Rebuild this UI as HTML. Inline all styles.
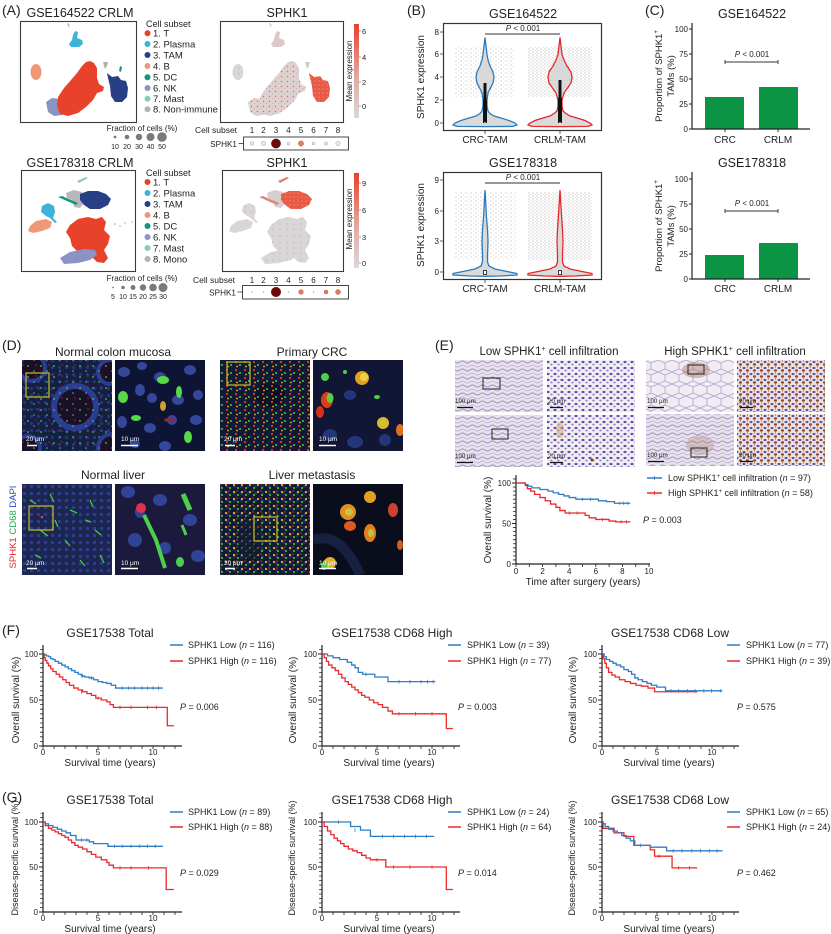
<!DOCTYPE html>
<html><head><meta charset="utf-8"><style>
html,body{margin:0;padding:0;background:#fff;width:831px;height:934px;overflow:hidden}
svg{display:block}
text{fill:#222}
</style></head><body>
<svg xmlns="http://www.w3.org/2000/svg" width="831" height="934" viewBox="0 0 831 934" font-family="'Liberation Sans', Arial, sans-serif">
<defs>
<linearGradient id="cbar" x1="0" y1="1" x2="0" y2="0">
<stop offset="0" stop-color="#d9d9d9"/><stop offset="0.45" stop-color="#e4a79e"/><stop offset="1" stop-color="#e8402a"/>
</linearGradient>
<pattern id="speck" width="6" height="5" patternUnits="userSpaceOnUse">
<rect width="6" height="5" fill="#dcd2d1"/><circle cx="1.5" cy="1.5" r="0.7" fill="#e2685a"/><circle cx="4.5" cy="3.6" r="0.5" fill="#e8948a"/>
</pattern>
<pattern id="speckG" width="7" height="6" patternUnits="userSpaceOnUse">
<rect width="7" height="6" fill="#d8d6d6"/><circle cx="2" cy="2" r="0.5" fill="#e07a70"/>
</pattern>
<pattern id="speckR" width="4" height="4" patternUnits="userSpaceOnUse">
<rect width="4" height="4" fill="#e85a45"/><circle cx="1" cy="1" r="0.6" fill="#f09a8c"/>
</pattern>
<pattern id="jit" width="5" height="4" patternUnits="userSpaceOnUse">
<circle cx="1" cy="1" r="0.45" fill="#8a8a8a"/><circle cx="3.5" cy="3" r="0.4" fill="#a5a5a5"/>
</pattern>
<pattern id="jit2" width="4" height="3" patternUnits="userSpaceOnUse">
<circle cx="1" cy="1" r="0.45" fill="#7e7e7e"/><circle cx="3" cy="2.3" r="0.4" fill="#9a9a9a"/>
</pattern>
<pattern id="dBlueNuc" width="7" height="7" patternUnits="userSpaceOnUse">
<circle cx="3.5" cy="3.5" r="1.6" fill="#2c3f94"/>
</pattern>
<pattern id="dGreen" width="13" height="11" patternUnits="userSpaceOnUse">
<circle cx="2" cy="3" r="0.9" fill="#3ed24a"/><circle cx="8" cy="8" r="0.8" fill="#3ed24a"/><circle cx="10" cy="2" r="0.6" fill="#d23a3a"/>
</pattern>
<pattern id="dMix" width="9" height="8" patternUnits="userSpaceOnUse">
<circle cx="2" cy="2" r="1.1" fill="#e23a22"/><circle cx="6" cy="5" r="1" fill="#3fcf40"/><circle cx="3" cy="6.5" r="0.9" fill="#e2c02a"/>
</pattern>
<pattern id="dMixY" width="8" height="7" patternUnits="userSpaceOnUse">
<circle cx="2" cy="2" r="1.1" fill="#e8b42a"/><circle cx="6" cy="5" r="1" fill="#4ad23a"/><circle cx="5" cy="1" r="0.7" fill="#e04020"/>
</pattern>
<pattern id="ihcL" width="10" height="8" patternUnits="userSpaceOnUse">
<rect width="10" height="8" fill="#e8e2ec"/>
<path d="M0 2 Q2.5 0 5 2 T10 2" stroke="#9d8fc6" stroke-width="1" fill="none"/>
<path d="M0 6 Q2.5 4 5 6 T10 6" stroke="#b8acd6" stroke-width="0.8" fill="none"/>
</pattern>
<pattern id="ihcZ" width="7" height="6" patternUnits="userSpaceOnUse">
<rect width="7" height="6" fill="#f1edf0"/>
<ellipse cx="2" cy="2" rx="1.6" ry="1.1" fill="#5e4ea8"/><ellipse cx="5.5" cy="4.5" rx="1.2" ry="0.9" fill="#8a7cc0"/>
</pattern>
<pattern id="ihcZH" width="7" height="6" patternUnits="userSpaceOnUse">
<rect width="7" height="6" fill="#ebe1e3"/>
<ellipse cx="2" cy="2" rx="1.5" ry="1.1" fill="#5e4ea8"/><ellipse cx="5.5" cy="4.5" rx="1.6" ry="1.2" fill="#8e4a1c"/><circle cx="5.5" cy="1" r="0.6" fill="#a0602a"/>
</pattern>
<pattern id="ihcLace" width="14" height="12" patternUnits="userSpaceOnUse">
<rect width="14" height="12" fill="#f1edf2"/>
<path d="M0 0 L7 3 L14 0 M7 3 L7 9 L0 12 M7 9 L14 12" stroke="#b4a6d2" stroke-width="0.9" fill="none"/>
</pattern>
<clipPath id="cD1"><rect x="22" y="360" width="90" height="91"/></clipPath>
<clipPath id="cD2"><rect x="115" y="360" width="90" height="91"/></clipPath>
<clipPath id="cD3"><rect x="220" y="360" width="90" height="91"/></clipPath>
<clipPath id="cD4"><rect x="313" y="360" width="90" height="91"/></clipPath>
<clipPath id="cD5"><rect x="22" y="484" width="90" height="91"/></clipPath>
<clipPath id="cD6"><rect x="115" y="484" width="90" height="91"/></clipPath>
<clipPath id="cD7"><rect x="220" y="484" width="90" height="91"/></clipPath>
<clipPath id="cD8"><rect x="313" y="484" width="90" height="91"/></clipPath>
</defs>

<!-- ================= PANEL A TOP ================= -->
<text x="2" y="15" font-size="14">(A)</text>
<text x="80" y="17" font-size="12.5" text-anchor="middle">GSE164522 CRLM</text>
<rect x="20.5" y="21.5" width="116" height="101" fill="#fff" stroke="#3a3a3a" stroke-width="1.1"/>
<path d="M67 23 l2 1 l1 3 l-2 -1z" fill="#86cdb8"/>
<path d="M75 31 L78 32 L77 38 L82 40 L83 44 L79 47 L71 47 L69 44 L72 40 L73 35 Z" fill="#3cb4d8"/>
<ellipse cx="36" cy="72" rx="5.5" ry="8" fill="#ef9878"/>
<path d="M46 102 L52 98 L60 99 L64 104 L66 110 L62 115 L54 116 L48 112 Z" fill="#8a93c2"/>
<path d="M58 97 L64 88 L71 80 L77 73 L82 66 L86 62 L90 61 L94 63 L97 68 L97 78 L99 84 L104 87 L103 91 L97 93 L93 100 L86 107 L78 113 L68 116 L60 114 L57 106 Z" fill="#e8432a"/>
<path d="M107 73 L112 77 L118 76 L121 80 L126 81 L128 88 L127 97 L122 102 L115 102 L111 96 L110 86 L108 78 Z" fill="#263f86"/>
<path d="M120 66 l2 1 l-1 5 l-2 -1z" fill="#14967a"/>
<path d="M103 62 h5 l-1 4 l-2 3 l-1 -3z" fill="#b0b0b0"/>

<text x="146" y="27" font-size="9">Cell subset</text>
<g font-size="9.5">
<circle cx="147.5" cy="33.3" r="3" fill="#e8432a"/><text x="153" y="36.6">1. T</text>
<circle cx="147.5" cy="44" r="3" fill="#3cb4d8"/><text x="153" y="47.3">2. Plasma</text>
<circle cx="147.5" cy="55" r="3" fill="#263f86"/><text x="153" y="58.3">3. TAM</text>
<circle cx="147.5" cy="66" r="3" fill="#ef9878"/><text x="153" y="69.3">4. B</text>
<circle cx="147.5" cy="77.3" r="3" fill="#14967a"/><text x="153" y="80.6">5. DC</text>
<circle cx="147.5" cy="88" r="3" fill="#8a93c2"/><text x="153" y="91.3">6. NK</text>
<circle cx="147.5" cy="98.7" r="3" fill="#86cdb8"/><text x="153" y="102">7. Mast</text>
<circle cx="147.5" cy="109.3" r="3" fill="#b4b4b4"/><text x="153" y="112.6">8. Non-immune</text>
</g>

<text x="287" y="17" font-size="12.5" text-anchor="middle">SPHK1</text>
<rect x="220.5" y="21.5" width="123" height="101" fill="#fff" stroke="#3a3a3a" stroke-width="1.1"/>
<g transform="translate(202,0)">
<path d="M67 23 l2 1 l1 3 l-2 -1z" fill="#d0cccc"/>
<path d="M75 31 L78 32 L77 38 L82 40 L83 44 L79 47 L71 47 L69 44 L72 40 L73 35 Z" fill="#dcc8c6"/>
<ellipse cx="36" cy="72" rx="5.5" ry="8" fill="url(#speckG)"/>
<path d="M46 102 L52 98 L60 99 L64 104 L66 110 L62 115 L54 116 L48 112 Z" fill="url(#speck)"/>
<path d="M58 97 L64 88 L71 80 L77 73 L82 66 L86 62 L90 61 L94 63 L97 68 L97 78 L99 84 L104 87 L103 91 L97 93 L93 100 L86 107 L78 113 L68 116 L60 114 L57 106 Z" fill="url(#speck)"/>
<path d="M107 73 L112 77 L118 76 L121 80 L126 81 L128 88 L127 97 L122 102 L115 102 L111 96 L110 86 L108 78 Z" fill="url(#speckR)"/>
<path d="M103 62 h5 l-1 4 l-2 3 l-1 -3z" fill="#d0cccc"/>
</g>
<text transform="translate(352,71) rotate(-90)" font-size="8" text-anchor="middle">Mean expression</text>
<rect x="354" y="24" width="5" height="94" fill="url(#cbar)"/>
<g font-size="7.5"><path d="M359 31 h2 M359 57 h2 M359 82 h2 M359 106 h2" stroke="#444" stroke-width="0.6"/>
<text x="362" y="34">6</text><text x="362" y="60">4</text><text x="362" y="85">2</text><text x="362" y="109">0</text></g>

<text x="142" y="131" font-size="8" text-anchor="middle">Fraction of cells (%)</text>
<g fill="#7a7a7a"><circle cx="115" cy="137" r="1.4"/><circle cx="127" cy="137" r="2.3"/><circle cx="139" cy="137" r="3.2"/><circle cx="150.5" cy="137" r="4"/><circle cx="162" cy="137" r="4.8"/></g>
<g font-size="7" text-anchor="middle"><text x="115" y="149">10</text><text x="127" y="149">20</text><text x="139" y="149">30</text><text x="150.5" y="149">40</text><text x="162" y="149">50</text></g>

<text x="195" y="133" font-size="8.5">Cell subset</text>
<g font-size="8" text-anchor="middle"><text x="252" y="133">1</text><text x="263.5" y="133">2</text><text x="276" y="133">3</text><text x="288.5" y="133">4</text><text x="301" y="133">5</text><text x="313.5" y="133">6</text><text x="326" y="133">7</text><text x="338" y="133">8</text></g>
<rect x="243.5" y="137" width="105" height="13" fill="#fff" stroke="#333" stroke-width="0.9"/>
<text x="237" y="147" font-size="8.2" text-anchor="end">SPHK1</text><path d="M238.5 143.5 h5" stroke="#333" stroke-width="0.8"/>
<g stroke="#999" stroke-width="0.5">
<circle cx="252" cy="143.5" r="1.7" fill="#f3efed"/><circle cx="263.5" cy="143.5" r="2" fill="#f6ecdf"/>
<circle cx="276" cy="143.5" r="4.6" fill="#6b0a0a" stroke="#4a0505"/>
<circle cx="288.5" cy="143.5" r="1.5" fill="#eee"/><circle cx="301" cy="143.5" r="2.6" fill="#e8805e" stroke="#b5553c"/>
<circle cx="313.5" cy="143.5" r="1.4" fill="#eee"/><circle cx="326" cy="143.5" r="1.6" fill="#f0ece9"/><circle cx="338" cy="143.5" r="2.2" fill="#f5ede4"/>
</g>

<!-- ================= PANEL A BOTTOM ================= -->
<text x="80" y="167" font-size="12.5" text-anchor="middle">GSE178318 CRLM</text>
<rect x="21.5" y="170.5" width="114" height="101" fill="#fff" stroke="#3a3a3a" stroke-width="1.1"/>
<path d="M77 181 L86 177 L88 178 L79 183 Z" fill="#86cdb8"/>
<path d="M66 193 L74 190 L82 192 L86 197 L84 203 L80 208 L74 207 L72 200 L67 198 Z" fill="#b8b8b8"/>
<path d="M80 194 L88 191 L98 191 L106 194 L111 199 L108 205 L100 209 L90 209 L84 205 L80 200 Z" fill="#263f86"/>
<path d="M58 197 L62 196 L78 203 L76 205 Z" fill="#14967a"/>
<path d="M42 206 L48 203 L54 206 L55 212 L53 218 L57 222 L55 223 L50 218 L46 216 L41 212 Z" fill="#3cb4d8"/>
<path d="M30 226 L36 221 L46 219 L52 222 L50 228 L42 231 L33 233 L28 231 Z" fill="#ef9878"/>
<path d="M70 225 L78 219 L88 217 L96 219 L102 217 L106 222 L104 230 L110 236 L108 244 L104 250 L108 258 L104 263 L97 262 L92 257 L85 255 L78 252 L72 246 L70 238 L66 232 Z" fill="#e8432a"/>
<path d="M60 258 L70 252 L84 249 L95 250 L97 255 L90 260 L78 263 L64 264 Z" fill="#8a93c2"/>
<g fill="#e8836f"><circle cx="115" cy="224" r="0.8"/><circle cx="120" cy="226" r="0.7"/><circle cx="125" cy="223" r="0.7"/><circle cx="132" cy="222" r="0.8" fill="#86cdb8"/></g>

<text x="146" y="176" font-size="9">Cell subset</text>
<g font-size="9.5">
<circle cx="147.5" cy="182" r="3" fill="#e8432a"/><text x="153" y="185.3">1. T</text>
<circle cx="147.5" cy="193" r="3" fill="#3cb4d8"/><text x="153" y="196.3">2. Plasma</text>
<circle cx="147.5" cy="204" r="3" fill="#263f86"/><text x="153" y="207.3">3. TAM</text>
<circle cx="147.5" cy="215" r="3" fill="#ef9878"/><text x="153" y="218.3">4. B</text>
<circle cx="147.5" cy="226" r="3" fill="#14967a"/><text x="153" y="229.3">5. DC</text>
<circle cx="147.5" cy="237" r="3" fill="#8a93c2"/><text x="153" y="240.3">6. NK</text>
<circle cx="147.5" cy="248" r="3" fill="#86cdb8"/><text x="153" y="251.3">7. Mast</text>
<circle cx="147.5" cy="259" r="3" fill="#b4b4b4"/><text x="153" y="262.3">8. Mono</text>
</g>

<text x="287" y="167" font-size="12.5" text-anchor="middle">SPHK1</text>
<rect x="222.5" y="170.5" width="121" height="101" fill="#fff" stroke="#3a3a3a" stroke-width="1.1"/>
<g transform="translate(201,0)">
<path d="M77 181 L86 177 L88 178 L79 183 Z" fill="#e27a6a"/>
<path d="M66 193 L74 190 L82 192 L86 197 L84 203 L80 208 L74 207 L72 200 L67 198 Z" fill="#d6cfcf"/>
<path d="M80 194 L88 191 L98 191 L106 194 L111 199 L108 205 L100 209 L90 209 L84 205 L80 200 Z" fill="url(#speckR)"/>
<path d="M58 197 L62 196 L78 203 L76 205 Z" fill="#e0857a"/>
<path d="M42 206 L48 203 L54 206 L55 212 L53 218 L57 222 L55 223 L50 218 L46 216 L41 212 Z" fill="url(#speckG)"/>
<path d="M30 226 L36 221 L46 219 L52 222 L50 228 L42 231 L33 233 L28 231 Z" fill="#d8d6d6"/>
<path d="M70 225 L78 219 L88 217 L96 219 L102 217 L106 222 L104 230 L110 236 L108 244 L104 250 L108 258 L104 263 L97 262 L92 257 L85 255 L78 252 L72 246 L70 238 L66 232 Z" fill="url(#speckG)"/>
<path d="M60 258 L70 252 L84 249 L95 250 L97 255 L90 260 L78 263 L64 264 Z" fill="url(#speckG)"/>
</g>
<text transform="translate(352,219) rotate(-90)" font-size="8" text-anchor="middle">Mean expression</text>
<rect x="354" y="173" width="5" height="95" fill="url(#cbar)"/>
<g font-size="7.5"><path d="M359 183 h2 M359 210 h2 M359 237 h2 M359 263 h2" stroke="#444" stroke-width="0.6"/>
<text x="362" y="186">9</text><text x="362" y="213">6</text><text x="362" y="240">3</text><text x="362" y="266">0</text></g>

<text x="142" y="281" font-size="8" text-anchor="middle">Fraction of cells (%)</text>
<g fill="#7a7a7a"><circle cx="113" cy="287.5" r="0.9"/><circle cx="123" cy="287.5" r="1.8"/><circle cx="133" cy="287.5" r="2.5"/><circle cx="143" cy="287.5" r="3.2"/><circle cx="153" cy="287.5" r="3.8"/><circle cx="163" cy="287.5" r="4.5"/></g>
<g font-size="7" text-anchor="middle"><text x="113" y="299">5</text><text x="123" y="299">10</text><text x="133" y="299">15</text><text x="143" y="299">20</text><text x="153" y="299">25</text><text x="163" y="299">30</text></g>

<text x="193" y="283" font-size="8.5">Cell subset</text>
<g font-size="8" text-anchor="middle"><text x="252" y="283">1</text><text x="263.5" y="283">2</text><text x="276" y="283">3</text><text x="288.5" y="283">4</text><text x="301" y="283">5</text><text x="313.5" y="283">6</text><text x="326" y="283">7</text><text x="338" y="283">8</text></g>
<rect x="242.5" y="285.5" width="106" height="13.5" fill="#fff" stroke="#333" stroke-width="0.9"/>
<text x="236" y="295.5" font-size="8.2" text-anchor="end">SPHK1</text><path d="M237.5 292 h5" stroke="#333" stroke-width="0.8"/>
<g>
<circle cx="252" cy="292" r="0.7" fill="#aaa"/><circle cx="263.5" cy="292" r="0.7" fill="#aaa"/>
<circle cx="276" cy="292" r="5" fill="#6b0a0a"/>
<circle cx="288.5" cy="292" r="0.7" fill="#aaa"/><circle cx="301" cy="292" r="2.4" fill="#e47a55" stroke="#b5553c" stroke-width="0.4"/>
<circle cx="313.5" cy="292" r="0.7" fill="#aaa"/><circle cx="326" cy="292" r="2" fill="#e47a55" stroke="#b5553c" stroke-width="0.4"/><circle cx="338" cy="292" r="2.5" fill="#e47a55" stroke="#b5553c" stroke-width="0.4"/>
</g>

<!-- ================= PANEL B ================= -->
<text x="407" y="15" font-size="14">(B)</text>
<text x="523" y="18" font-size="12.5" text-anchor="middle">GSE164522</text>
<rect x="443.5" y="23.5" width="158" height="107" fill="#fff" stroke="#333" stroke-width="1.2"/>
<rect x="455" y="47" width="60" height="50" fill="url(#jit)"/>
<rect x="528" y="47" width="64" height="50" fill="url(#jit2)"/>
<path d="M485 37.5 L486 46 L487 54.6 L488 60 L490 66 L493 72 L494 77.4 L493 83 L490 88.8 L488 93 L487 100 L487 106 L488 111 L490 113.5 L494 116 L501 118 L509 120.5 L515 123 L517 125 L513 126.4 L485 126.6 L457 126.4 L453 125 L455 123 L461 120.5 L469 118 L476 116 L480 113.5 L482 111 L483 106 L483 100 L482 93 L480 88.8 L477 83 L476 77.4 L477 72 L480 66 L482 60 L483 54.6 L484 46 Z" fill="#d4d4d4" fill-opacity="0.85" stroke="#2b7bc0" stroke-width="1.3"/>
<path d="M560 37.5 L561 46 L562 54.6 L564 60 L567 66 L571 72 L572 77.4 L571 83 L567 88.8 L564 93 L562 100 L562 106 L563 111 L566 113.5 L570 116 L577 118 L585 120.5 L590 123 L592 125 L588 126.4 L560 126.6 L532 126.4 L528 125 L530 123 L535 120.5 L543 118 L550 116 L554 113.5 L557 111 L558 106 L558 100 L556 93 L553 88.8 L549 83 L548 77.4 L549 72 L553 66 L556 60 L558 54.6 L559 46 Z" fill="#d4d4d4" fill-opacity="0.85" stroke="#e8262c" stroke-width="1.3"/>
<rect x="483.5" y="83" width="3" height="40" fill="#111"/><rect x="483" y="100" width="4" height="23" fill="#111"/>
<rect x="558.5" y="80" width="3" height="43" fill="#111"/><rect x="558" y="98" width="4" height="25" fill="#111"/>
<circle cx="485" cy="123" r="1" fill="#ccc"/><circle cx="560" cy="123" r="1" fill="#ccc"/>
<path d="M485 34 H560" stroke="#333" stroke-width="0.9"/>
<text x="523" y="31" font-size="8" text-anchor="middle"><tspan font-style="italic">P</tspan> &lt; 0.001</text>
<g font-size="8" text-anchor="end"><text x="439" y="35">8</text><text x="439" y="57">6</text><text x="439" y="80">4</text><text x="439" y="103">2</text><text x="439" y="126">0</text></g>
<path d="M440 32 h3 M440 54 h3 M440 77 h3 M440 100 h3 M440 123 h3 M485 131 v3 M560 131 v3" stroke="#333" stroke-width="0.8"/>
<text transform="translate(424,77) rotate(-90)" font-size="10" text-anchor="middle">SPHK1 expression</text>
<g font-size="10" text-anchor="middle"><text x="485" y="143">CRC-TAM</text><text x="560" y="143">CRLM-TAM</text></g>

<text x="523" y="167" font-size="12.5" text-anchor="middle">GSE178318</text>
<rect x="443.5" y="172.5" width="158" height="107" fill="#fff" stroke="#333" stroke-width="1.2"/>
<rect x="454" y="192" width="62" height="68" fill="url(#jit)"/>
<rect x="528" y="192" width="64" height="68" fill="url(#jit2)"/>
<path d="M485 190 L485.6 200 L486.3 215 L487.5 230 L488 241 L487.5 255 L487.5 262 L489 266 L495 269 L507 271.5 L517 273.5 L517 275 L500 276 L485 276.3 L470 276 L453 275 L453 273.5 L463 271.5 L475 269 L481 266 L482.5 262 L482.5 255 L482 241 L482.5 230 L483.7 215 L484.4 200 Z" fill="#d4d4d4" fill-opacity="0.85" stroke="#2b7bc0" stroke-width="1.3"/>
<path d="M560 190 L560.6 200 L561.5 215 L562.5 230 L563 241 L562.5 255 L562.5 262 L564 266 L570 269 L582 271.5 L592 273.5 L592 275 L575 276 L560 276.3 L545 276 L528 275 L528 273.5 L538 271.5 L550 269 L556 266 L557.5 262 L557.5 255 L557 241 L557.5 230 L558.5 215 L559.4 200 Z" fill="#d4d4d4" fill-opacity="0.85" stroke="#e8262c" stroke-width="1.3"/>
<rect x="483.5" y="270.5" width="3" height="4" fill="#fff" stroke="#111" stroke-width="0.8"/>
<rect x="558.5" y="270.5" width="3" height="4" fill="#fff" stroke="#111" stroke-width="0.8"/>
<path d="M485 183 H560" stroke="#333" stroke-width="0.9"/>
<text x="523" y="180" font-size="8" text-anchor="middle"><tspan font-style="italic">P</tspan> &lt; 0.001</text>
<g font-size="8" text-anchor="end"><text x="439" y="183">9</text><text x="439" y="214">6</text><text x="439" y="244">3</text><text x="439" y="275">0</text></g>
<path d="M440 180 h3 M440 211 h3 M440 241 h3 M440 272 h3 M485 280 v3 M560 280 v3" stroke="#333" stroke-width="0.8"/>
<text transform="translate(424,225) rotate(-90)" font-size="10" text-anchor="middle">SPHK1 expression</text>
<g font-size="10" text-anchor="middle"><text x="485" y="292">CRC-TAM</text><text x="560" y="292">CRLM-TAM</text></g>

<!-- ================= PANEL C ================= -->
<text x="645" y="15" font-size="14">(C)</text>
<text x="752" y="18" font-size="12.5" text-anchor="middle">GSE164522</text>
<rect x="705" y="97" width="39" height="32" fill="#0c9445"/>
<rect x="759" y="87" width="39" height="42" fill="#0c9445"/>
<path d="M692 23 V129 H810" fill="none" stroke="#222" stroke-width="1.2"/>
<path d="M689 29 h3 M689 54 h3 M689 79 h3 M689 104 h3 M689 129 h3 M725 129 v3 M778 129 v3" stroke="#222" stroke-width="0.9"/>
<g font-size="8" text-anchor="end"><text x="688" y="32">100</text><text x="688" y="57">75</text><text x="688" y="82">50</text><text x="688" y="107">25</text><text x="688" y="132">0</text></g>
<path d="M725 62 H778 M725 60 v4 M778 60 v4" stroke="#333" stroke-width="0.9"/>
<text x="752" y="57" font-size="8" text-anchor="middle"><tspan font-style="italic">P</tspan> &lt; 0.001</text>
<g font-size="10" text-anchor="middle"><text x="725" y="143">CRC</text><text x="778" y="143">CRLM</text></g>
<g transform="translate(662,76) rotate(-90)" font-size="9.5" text-anchor="middle"><text x="0" y="0">Proportion of SPHK1<tspan font-size="6" dy="-4">+</tspan></text><text x="0" y="12">TAMs (%)</text></g>

<text x="752" y="167" font-size="12.5" text-anchor="middle">GSE178318</text>
<rect x="705" y="255" width="39" height="24" fill="#0c9445"/>
<rect x="759" y="243" width="39" height="36" fill="#0c9445"/>
<path d="M692 172 V279 H810" fill="none" stroke="#222" stroke-width="1.2"/>
<path d="M689 179 h3 M689 204 h3 M689 229 h3 M689 254 h3 M689 279 h3 M725 279 v3 M778 279 v3" stroke="#222" stroke-width="0.9"/>
<g font-size="8" text-anchor="end"><text x="688" y="182">100</text><text x="688" y="207">75</text><text x="688" y="232">50</text><text x="688" y="257">25</text><text x="688" y="282">0</text></g>
<path d="M725 211 H778 M725 209 v4 M778 209 v4" stroke="#333" stroke-width="0.9"/>
<text x="752" y="206" font-size="8" text-anchor="middle"><tspan font-style="italic">P</tspan> &lt; 0.001</text>
<g font-size="10" text-anchor="middle"><text x="725" y="292">CRC</text><text x="778" y="292">CRLM</text></g>
<g transform="translate(662,226) rotate(-90)" font-size="9.5" text-anchor="middle"><text x="0" y="0">Proportion of SPHK1<tspan font-size="6" dy="-4">+</tspan></text><text x="0" y="12">TAMs (%)</text></g>

<!-- ================= PANEL D ================= -->
<text x="2" y="350" font-size="14">(D)</text>
<g font-size="12" text-anchor="middle">
<text x="113" y="356">Normal colon mucosa</text><text x="312" y="356">Primary CRC</text>
<text x="113" y="479">Normal liver</text><text x="312" y="479">Liver metastasis</text></g>
<text transform="translate(16,527) rotate(-90)" font-size="9.5" text-anchor="middle"><tspan style="fill:#e8262c">SPHK1</tspan> <tspan style="fill:#22a84a">CD68</tspan> <tspan style="fill:#2a49b8">DAPI</tspan></text>

<g clip-path="url(#cD1)">
<rect x="22" y="360" width="90" height="91" fill="#161e42"/>
<rect x="22" y="360" width="90" height="91" fill="url(#dBlueNuc)" opacity="0.7"/>
<circle cx="75" cy="407" r="21" fill="#1c1028" stroke="#2b3d92" stroke-width="6"/>
<circle cx="32" cy="368" r="13" fill="#1c1028" stroke="#2b3d92" stroke-width="4"/>
<circle cx="110" cy="372" r="12" fill="#1c1028" stroke="#2b3d92" stroke-width="4"/>
<circle cx="28" cy="448" r="12" fill="#1c1028" stroke="#2b3d92" stroke-width="4"/>
<circle cx="112" cy="448" r="14" fill="#1c1028" stroke="#2b3d92" stroke-width="4"/>
<rect x="22" y="360" width="90" height="91" fill="url(#dGreen)"/>
</g>
<g clip-path="url(#cD2)">
<rect x="115" y="360" width="90" height="91" fill="#0e1434"/>
<g fill="#34479a">
<ellipse cx="124" cy="372" rx="6" ry="5"/><ellipse cx="142" cy="366" rx="5" ry="4"/><ellipse cx="160" cy="377" rx="6" ry="5"/><ellipse cx="190" cy="370" rx="6" ry="5"/>
<ellipse cx="140" cy="390" rx="5" ry="6"/><ellipse cx="152" cy="398" rx="5" ry="5"/><ellipse cx="178" cy="400" rx="6" ry="5"/><ellipse cx="198" cy="395" rx="5" ry="5"/>
<ellipse cx="122" cy="422" rx="5" ry="6"/><ellipse cx="150" cy="428" rx="6" ry="5"/><ellipse cx="172" cy="420" rx="5" ry="5"/><ellipse cx="196" cy="420" rx="6" ry="5"/>
<ellipse cx="135" cy="444" rx="5" ry="4"/><ellipse cx="165" cy="446" rx="6" ry="5"/></g>
<g fill="#58d848">
<ellipse cx="123" cy="397" rx="5" ry="6"/><ellipse cx="163" cy="380" rx="6" ry="4"/><ellipse cx="136" cy="418" rx="5" ry="3"/>
<ellipse cx="188" cy="437" rx="4" ry="6"/><ellipse cx="179" cy="392" rx="3" ry="6"/></g>
<ellipse cx="163" cy="406" rx="3" ry="5" fill="#d0a030"/>
<ellipse cx="170" cy="420" rx="6" ry="2" fill="#8a2a4a"/>
</g>
<g clip-path="url(#cD3)">
<rect x="220" y="360" width="90" height="91" fill="#131a38"/>
<ellipse cx="270" cy="395" rx="15" ry="12" fill="#0c1028"/>
<rect x="220" y="360" width="90" height="91" fill="url(#dMix)"/>
</g>
<g clip-path="url(#cD4)">
<rect x="313" y="360" width="90" height="91" fill="#101634"/>
<g fill="#24357a"><ellipse cx="330" cy="435" rx="7" ry="6"/><ellipse cx="355" cy="442" rx="8" ry="6"/><ellipse cx="385" cy="440" rx="6" ry="6"/><ellipse cx="350" cy="395" rx="6" ry="5"/></g>
<ellipse cx="325" cy="377" rx="4" ry="4" fill="#4cd04a"/>
<ellipse cx="362" cy="378" rx="7" ry="7" fill="#e0a020"/><ellipse cx="364" cy="377" rx="4" ry="4" fill="#f0d040"/>
<ellipse cx="327" cy="400" rx="6" ry="8" fill="#e03c1c"/><ellipse cx="330" cy="398" rx="3.5" ry="5" fill="#5ad040"/>
<ellipse cx="320" cy="412" rx="4" ry="6" fill="#d83018"/>
<ellipse cx="383" cy="423" rx="6" ry="6" fill="#e8b030"/><ellipse cx="383" cy="423" rx="3" ry="3" fill="#b0d040"/>
<ellipse cx="400" cy="430" rx="4" ry="6" fill="#e07020"/>
<ellipse cx="377" cy="397" rx="3" ry="2" fill="#4cd04a"/><ellipse cx="345" cy="372" rx="2" ry="2" fill="#4cd04a"/>
</g>
<g clip-path="url(#cD5)">
<rect x="22" y="484" width="90" height="91" fill="#1c2650"/>
<rect x="22" y="484" width="90" height="91" fill="url(#dBlueNuc)"/>
<path d="M30 500 l6 4 M50 494 l4 8 M70 510 l7 3 M90 500 l3 7 M40 530 l8 6 M65 540 l5 6 M95 530 l6 5 M35 555 l6 3 M80 560 l5 6 M100 555 l4 8 M55 520 l3 7 M85 520 l6 2" stroke="#44cc44" stroke-width="1.3"/>
<circle cx="42" cy="517" r="1.3" fill="#d04060"/>
</g>
<g clip-path="url(#cD6)">
<rect x="115" y="484" width="90" height="91" fill="#1c1a3c"/>
<g fill="#2f4498"><ellipse cx="128" cy="492" rx="7" ry="6"/><ellipse cx="160" cy="500" rx="7" ry="6"/><ellipse cx="190" cy="520" rx="7" ry="6"/><ellipse cx="135" cy="540" rx="7" ry="7"/><ellipse cx="165" cy="548" rx="6" ry="6"/><ellipse cx="198" cy="556" rx="7" ry="6"/><ellipse cx="140" cy="512" rx="5" ry="6"/></g>
<path d="M144 515 L156 540 L165 568" stroke="#4cd04a" stroke-width="4" fill="none"/>
<path d="M183 494 L190 510" stroke="#4cd04a" stroke-width="5" fill="none"/>
<path d="M182 525 L186 535" stroke="#4cd04a" stroke-width="3" fill="none"/>
<ellipse cx="141" cy="508" rx="5" ry="5" fill="#e03050"/>
<ellipse cx="180" cy="562" rx="4" ry="5" fill="#4cd04a"/>
</g>
<g clip-path="url(#cD7)">
<rect x="220" y="484" width="90" height="91" fill="#111a32"/>
<rect x="220" y="484" width="90" height="91" fill="url(#dBlueNuc)" opacity="0.5"/>
<rect x="220" y="484" width="90" height="91" fill="url(#dMixY)"/>
<ellipse cx="250" cy="540" rx="12" ry="20" fill="#111a32" opacity="0.6"/>
</g>
<g clip-path="url(#cD8)">
<rect x="313" y="484" width="90" height="91" fill="#0a0e1c"/>
<path d="M313 540 Q340 530 360 575" stroke="#182040" stroke-width="10" fill="none"/>
<ellipse cx="348" cy="512" rx="8" ry="8" fill="#e09020"/><ellipse cx="349" cy="512" rx="4" ry="4" fill="#d0c040"/>
<ellipse cx="370" cy="497" rx="6" ry="6" fill="#e0a020"/>
<ellipse cx="350" cy="526" rx="6" ry="5" fill="#e05a20"/>
<ellipse cx="370" cy="533" rx="6" ry="9" fill="#e08020"/><ellipse cx="371" cy="533" rx="3" ry="4" fill="#c0c040"/>
<ellipse cx="393" cy="510" rx="5" ry="7" fill="#d04030"/>
<ellipse cx="330" cy="563" rx="6" ry="6" fill="#e0b020"/><ellipse cx="324" cy="566" rx="3" ry="4" fill="#4cd04a"/>
<ellipse cx="400" cy="545" rx="3" ry="5" fill="#d06020"/>
</g>
<g fill="none" stroke="#c8c020" stroke-width="1.2">
<rect x="26" y="373" width="23" height="24"/><rect x="227" y="362" width="23" height="23"/>
<rect x="29" y="506" width="24" height="24"/><rect x="254" y="517" width="23" height="24"/></g>
<g font-size="6.5"><text x="26" y="441" style="fill:#fff">20 μm</text><text x="121" y="441" style="fill:#fff">10 μm</text><text x="224" y="441" style="fill:#fff">20 μm</text><text x="319" y="441" style="fill:#fff">10 μm</text>
<text x="26" y="565" style="fill:#fff">20 μm</text><text x="121" y="565" style="fill:#fff">10 μm</text><text x="224" y="565" style="fill:#fff">20 μm</text><text x="319" y="565" style="fill:#fff">10 μm</text></g>
<path d="M27 445.5 h10 M121 445.5 h17 M225 445.5 h10 M319 445.5 h17 M27 568.5 h10 M121 568.5 h17 M225 568.5 h10 M319 568.5 h17" stroke="#fff" stroke-width="1.5"/>

<!-- ================= PANEL E ================= -->
<text x="435" y="350" font-size="14">(E)</text>
<text x="549" y="355" font-size="11.5" text-anchor="middle">Low SPHK1<tspan font-size="7" dy="-4">+</tspan><tspan dy="4"> cell infiltration</tspan></text>
<text x="735" y="355" font-size="11.5" text-anchor="middle">High SPHK1<tspan font-size="7" dy="-4">+</tspan><tspan dy="4"> cell infiltration</tspan></text>
<rect x="455" y="360" width="88" height="52" fill="url(#ihcL)"/>
<rect x="547" y="360" width="88" height="52" fill="url(#ihcZ)"/>
<rect x="455" y="415" width="88" height="52" fill="url(#ihcL)"/>
<rect x="547" y="415" width="88" height="52" fill="url(#ihcZ)"/>
<circle cx="592" cy="460" r="1.5" fill="#8a3a10"/><ellipse cx="560" cy="430" rx="4" ry="8" fill="#c8a070" opacity="0.5"/>
<rect x="646" y="360" width="88" height="52" fill="url(#ihcLace)"/>
<ellipse cx="696" cy="370" rx="14" ry="8" fill="#b07a6a" opacity="0.45"/>
<rect x="737" y="360" width="88" height="52" fill="url(#ihcZH)"/>
<rect x="646" y="414" width="88" height="52" fill="url(#ihcL)"/>
<ellipse cx="700" cy="445" rx="14" ry="10" fill="#b58878" opacity="0.35"/>
<rect x="737" y="414" width="88" height="52" fill="url(#ihcZH)"/>
<g fill="none" stroke="#222" stroke-width="1"><rect x="483" y="378" width="17" height="11"/><rect x="492" y="429" width="16" height="10"/><rect x="688" y="365" width="16" height="9"/><rect x="691" y="448" width="16" height="9"/></g>
<g font-size="6.2"><text x="455" y="403">100 μm</text><text x="548" y="403">20 μm</text><text x="455" y="458">100 μm</text><text x="548" y="458">20 μm</text>
<text x="647" y="403">100 μm</text><text x="739" y="403">20 μm</text><text x="647" y="457">100 μm</text><text x="739" y="457">20 μm</text></g>
<path d="M457 407.5 h16 M550 407.5 h13 M457 462.5 h16 M550 462.5 h13 M648 407.5 h16 M740 407.5 h13 M648 461.5 h16 M740 461.5 h13" stroke="#111" stroke-width="1.3"/>

<!-- E KM -->
<path d="M516 475 V564 H650" fill="none" stroke="#222" stroke-width="1.2"/>
<line x1="514.2" y1="564.4" x2="514.2" y2="476" stroke="#222" stroke-width="2.5" stroke-dasharray="0.8 3.25"/>
<line x1="515.6" y1="565.8" x2="650" y2="565.8" stroke="#222" stroke-width="2.5" stroke-dasharray="0.8 12.5"/>
<path d="M512 483 h4 M512 523.5 h4 M512 564 h4" stroke="#222" stroke-width="1"/>
<g font-size="8" text-anchor="end"><text x="511" y="486">100</text><text x="511" y="526.5">50</text><text x="511" y="567">0</text></g>
<g font-size="8" text-anchor="middle"><text x="516" y="574">0</text><text x="542.6" y="574">2</text><text x="569.2" y="574">4</text><text x="595.8" y="574">6</text><text x="622.4" y="574">8</text><text x="649" y="574">10</text></g>
<text x="583" y="585" font-size="10" text-anchor="middle">Time after surgery (years)</text>
<text transform="translate(491,520) rotate(-90)" font-size="10" text-anchor="middle">Overall survival (%)</text>
<g transform="translate(516,564) scale(13.3,-0.81)" fill="none" stroke-width="1.3">
<path vector-effect="non-scaling-stroke" stroke="#2e7cc4" d="M0 100 H0.7 V98 H0.9 V96 H1.2 V94 H1.8 V92 H2.4 V90 H2.8 V88 H3.2 V86 H3.6 V84 H4 V82 H4.5 V80 H6.2 V78 H6.8 V77 H7.4 V75 H8.6"/>
<path vector-effect="non-scaling-stroke" stroke="#ec2a2a" d="M0 100 H0.7 V97 H0.85 V93 H1.1 V90 H1.4 V86 H1.8 V82 H2.2 V78 H2.6 V74 H3 V70 H3.3 V66 H3.7 V63 H5.2 V60 H5.5 V57 H6 V55 H7 V53 H7.5 V52 H8.6"/>
<path vector-effect="non-scaling-stroke" stroke="#2e7cc4" stroke-width="0.8" d="M5 78 V82 M5.6 78 V82 M7.8 73 V77 M8.1 73 V77 M8.4 73 V77"/>
<path vector-effect="non-scaling-stroke" stroke="#ec2a2a" stroke-width="0.8" d="M4 61 V65 M4.6 61 V65 M6.5 53 V57 M7.9 50 V54 M8.3 50 V54"/>
</g>
<path d="M647 478 h15" stroke="#2e7cc4" stroke-width="1.5"/><path d="M654.5 476 v4" stroke="#2e7cc4" stroke-width="0.8"/>
<path d="M647 493 h15" stroke="#ec2a2a" stroke-width="1.5"/><path d="M654.5 491 v4" stroke="#ec2a2a" stroke-width="0.8"/>
<g font-size="9"><text x="668" y="481">Low SPHK1<tspan font-size="6" dy="-3">+</tspan><tspan dy="3"> cell infiltration (</tspan><tspan font-style="italic">n</tspan> = 97)</text>
<text x="668" y="496">High SPHK1<tspan font-size="6" dy="-3">+</tspan><tspan dy="3"> cell infiltration (</tspan><tspan font-style="italic">n</tspan> = 58)</text>
<text x="643" y="523"><tspan font-style="italic">P</tspan> = 0.003</text></g>

<!-- ================= PANEL F ================= -->
<text x="2" y="635" font-size="14">(F)</text>
<g font-size="12" text-anchor="middle"><text x="110" y="637">GSE17538 Total</text><text x="392" y="637">GSE17538 CD68 High</text><text x="670" y="637">GSE17538 CD68 Low</text></g>
<g fill="none" stroke="#222" stroke-width="1.2"><path d="M43 645 V746 H182"/><path d="M322 645 V746 H460"/><path d="M602 645 V746 H739"/></g>
<g stroke="#222" stroke-width="2.5" stroke-dasharray="0.8 3.8">
<line x1="41.3" y1="746.4" x2="41.3" y2="646"/><line x1="320.3" y1="746.4" x2="320.3" y2="646"/><line x1="600.3" y1="746.4" x2="600.3" y2="646"/></g>
<g stroke="#222" stroke-width="2.5" stroke-dasharray="0.8 10.2">
<line x1="42.6" y1="747.7" x2="182" y2="747.7"/><line x1="321.6" y1="747.7" x2="460" y2="747.7"/><line x1="601.6" y1="747.7" x2="739" y2="747.7"/></g>
<path d="M39 654 h4 M39 700 h4 M39 746 h4 M318 654 h4 M318 700 h4 M318 746 h4 M598 654 h4 M598 700 h4 M598 746 h4" stroke="#222" stroke-width="1"/>
<g font-size="8" text-anchor="end">
<text x="38" y="657">100</text><text x="38" y="703">50</text><text x="38" y="749">0</text>
<text x="317" y="657">100</text><text x="317" y="703">50</text><text x="317" y="749">0</text>
<text x="597" y="657">100</text><text x="597" y="703">50</text><text x="597" y="749">0</text></g>
<g font-size="8" text-anchor="middle">
<text x="43" y="755">0</text><text x="98" y="755">5</text><text x="153" y="755">10</text>
<text x="322" y="755">0</text><text x="377" y="755">5</text><text x="432" y="755">10</text>
<text x="602" y="755">0</text><text x="657" y="755">5</text><text x="712" y="755">10</text></g>
<g font-size="10" text-anchor="middle"><text x="110" y="766">Survival time (years)</text><text x="389" y="766">Survival time (years)</text><text x="669" y="766">Survival time (years)</text></g>
<g font-size="10" text-anchor="middle">
<text transform="translate(19,700) rotate(-90)">Overall survival (%)</text>
<text transform="translate(296,700) rotate(-90)">Overall survival (%)</text>
<text transform="translate(576,700) rotate(-90)">Overall survival (%)</text></g>

<g transform="translate(43,746) scale(11,-0.92)" fill="none" stroke-width="1.3">
<path vector-effect="non-scaling-stroke" stroke="#2e7cc4" d="M0 100 H0.15 V99 H0.3 V98 H0.5 V97 H0.7 V95 H0.9 V94 H1.1 V92 H1.4 V90 H1.7 V88 H2 V86 H2.3 V84 H2.6 V82 H2.9 V80 H3.2 V78 H3.5 V76 H3.8 V75 H4.2 V74 H4.6 V72 H5 V70 H5.4 V69 H5.8 V68 H6.2 V66 H6.6 V63 H10.9"/>
<path vector-effect="non-scaling-stroke" stroke="#ec2a2a" d="M0 100 H0.1 V96 H0.2 V93 H0.35 V90 H0.5 V87 H0.7 V84 H0.9 V81 H1.2 V78 H1.5 V75 H1.8 V72 H2.1 V69 H2.4 V66 H2.8 V63 H3.2 V61 H3.6 V59 H4 V57 H4.4 V55 H4.8 V52 H5.3 V50 H5.8 V48 H6.1 V45 H6.4 V42 H11.3 V22 H11.9"/>
<path vector-effect="non-scaling-stroke" stroke="#2e7cc4" stroke-width="0.8" d="M7.2 61 V65 M7.8 61 V65 M8.3 61 V65 M9 61 V65 M9.5 61 V65 M10 61 V65 M10.5 61 V65 M3.6 74 V78 M4.4 72 V76"/>
<path vector-effect="non-scaling-stroke" stroke="#ec2a2a" stroke-width="0.8" d="M7 40 V44 M8 40 V44 M9.5 40 V44 M10.3 40 V44 M3.5 57 V61 M5 50 V54"/>
</g>
<g transform="translate(322,746) scale(11,-0.92)" fill="none" stroke-width="1.3">
<path vector-effect="non-scaling-stroke" stroke="#2e7cc4" d="M0 100 H0.5 V98 H1 V96 H1.6 V94 H2.3 V91 H2.7 V88 H3 V85 H3.3 V80 H3.7 V78 H4.8 V75 H6 V70 H10.3"/>
<path vector-effect="non-scaling-stroke" stroke="#ec2a2a" d="M0 100 H0.2 V96 H0.4 V92 H0.6 V88 H0.9 V85 H1.2 V82 H1.5 V78 H1.8 V74 H2.1 V70 H2.4 V67 H2.7 V64 H3 V61 H3.3 V58 H3.6 V55 H3.9 V53 H4.3 V50 H4.7 V47 H5.1 V45 H5.5 V42 H6 V38 H6.4 V35 H11.3 V19 H11.9"/>
<path vector-effect="non-scaling-stroke" stroke="#2e7cc4" stroke-width="0.8" d="M7 68 V72 M8 68 V72 M9 68 V72 M9.6 68 V72 M10.1 68 V72 M4 76 V80"/>
<path vector-effect="non-scaling-stroke" stroke="#ec2a2a" stroke-width="0.8" d="M7 33 V37 M8.5 33 V37 M10 33 V37"/>
</g>
<g transform="translate(602,746) scale(10.95,-0.92)" fill="none" stroke-width="1.3">
<path vector-effect="non-scaling-stroke" stroke="#ec2a2a" d="M0 100 H0.1 V95 H0.25 V90 H0.4 V85 H0.6 V80 H0.9 V77 H1.2 V75 H1.6 V72 H2.1 V70 H2.6 V68 H3.1 V66 H3.6 V65 H4.2 V63 H4.8 V59 H8.7"/>
<path vector-effect="non-scaling-stroke" stroke="#2e7cc4" d="M0 100 H0.2 V97 H0.4 V94 H0.7 V92 H1 V90 H1.3 V88 H1.7 V86 H2 V83 H2.4 V81 H2.7 V78 H3 V74 H3.3 V72 H3.7 V70 H4.1 V68 H4.5 V66 H5 V64 H5.8 V60 H11"/>
<path vector-effect="non-scaling-stroke" stroke="#2e7cc4" stroke-width="0.8" d="M6.3 58 V62 M7 58 V62 M7.8 58 V62 M8.5 58 V62 M9.3 58 V62 M10 58 V62 M10.8 58 V62"/>
</g>
<g>
<path d="M170 645 h13 M448 645 h13 M727 645 h13" stroke="#2e7cc4" stroke-width="1.5"/>
<path d="M170 661 h13 M448 661 h13 M727 661 h13" stroke="#ec2a2a" stroke-width="1.5"/>
</g>
<g font-size="9">
<text x="188" y="648">SPHK1 Low (<tspan font-style="italic">n</tspan> = 116)</text><text x="188" y="664">SPHK1 High (<tspan font-style="italic">n</tspan> = 116)</text>
<text x="467" y="648">SPHK1 Low (<tspan font-style="italic">n</tspan> = 39)</text><text x="467" y="664">SPHK1 High (<tspan font-style="italic">n</tspan> = 77)</text>
<text x="746" y="648">SPHK1 Low (<tspan font-style="italic">n</tspan> = 77)</text><text x="746" y="664">SPHK1 High (<tspan font-style="italic">n</tspan> = 39)</text>
<text x="180" y="710"><tspan font-style="italic">P</tspan> = 0.006</text><text x="458" y="710"><tspan font-style="italic">P</tspan> = 0.003</text><text x="737" y="710"><tspan font-style="italic">P</tspan> = 0.575</text></g>

<!-- ================= PANEL G ================= -->
<text x="2" y="802" font-size="14">(G)</text>
<g font-size="12" text-anchor="middle"><text x="110" y="804">GSE17538 Total</text><text x="392" y="804">GSE17538 CD68 High</text><text x="670" y="804">GSE17538 CD68 Low</text></g>
<g fill="none" stroke="#222" stroke-width="1.2"><path d="M43 812 V912 H182"/><path d="M322 812 V912 H460"/><path d="M602 812 V912 H739"/></g>
<g stroke="#222" stroke-width="2.5" stroke-dasharray="0.8 3.7">
<line x1="41.3" y1="912.4" x2="41.3" y2="813"/><line x1="320.3" y1="912.4" x2="320.3" y2="813"/><line x1="600.3" y1="912.4" x2="600.3" y2="813"/></g>
<g stroke="#222" stroke-width="2.5" stroke-dasharray="0.8 10.2">
<line x1="42.6" y1="913.7" x2="182" y2="913.7"/><line x1="321.6" y1="913.7" x2="460" y2="913.7"/><line x1="601.6" y1="913.7" x2="739" y2="913.7"/></g>
<path d="M39 822 h4 M39 867 h4 M39 912 h4 M318 822 h4 M318 867 h4 M318 912 h4 M598 822 h4 M598 867 h4 M598 912 h4" stroke="#222" stroke-width="1"/>
<g font-size="8" text-anchor="end">
<text x="38" y="825">100</text><text x="38" y="870">50</text><text x="38" y="915">0</text>
<text x="317" y="825">100</text><text x="317" y="870">50</text><text x="317" y="915">0</text>
<text x="597" y="825">100</text><text x="597" y="870">50</text><text x="597" y="915">0</text></g>
<g font-size="8" text-anchor="middle">
<text x="43" y="921">0</text><text x="98" y="921">5</text><text x="153" y="921">10</text>
<text x="322" y="921">0</text><text x="377" y="921">5</text><text x="432" y="921">10</text>
<text x="602" y="921">0</text><text x="657" y="921">5</text><text x="712" y="921">10</text></g>
<g font-size="10" text-anchor="middle"><text x="110" y="932">Survival time (years)</text><text x="389" y="932">Survival time (years)</text><text x="669" y="932">Survival time (years)</text></g>
<g font-size="9" text-anchor="middle">
<text transform="translate(18,858) rotate(-90)">Disease-specific survival (%)</text>
<text transform="translate(295,858) rotate(-90)">Disease-specific survival (%)</text>
<text transform="translate(575,858) rotate(-90)">Disease-specific survival (%)</text></g>

<g transform="translate(43,912) scale(11,-0.9)" fill="none" stroke-width="1.3">
<path vector-effect="non-scaling-stroke" stroke="#2e7cc4" d="M0 100 H0.2 V98 H0.5 V96 H0.9 V94 H1.3 V92 H1.7 V90 H2.1 V88 H2.5 V85 H3 V80 H4.2 V78 H4.6 V76 H5.9 V73 H10.9"/>
<path vector-effect="non-scaling-stroke" stroke="#ec2a2a" d="M0 100 H0.2 V96 H0.5 V93 H0.8 V91 H1.1 V89 H1.4 V87 H1.7 V85 H2 V83 H2.3 V80 H2.6 V77 H2.9 V74 H3.2 V72 H3.6 V70 H4 V67 H4.4 V64 H4.8 V61 H5.3 V58 H5.8 V55 H6 V52 H6.4 V49 H11.2 V25 H11.9"/>
<path vector-effect="non-scaling-stroke" stroke="#2e7cc4" stroke-width="0.8" d="M6.5 71 V75 M7.2 71 V75 M8 71 V75 M8.8 71 V75 M9.5 71 V75 M10.2 71 V75 M3.5 78 V82 M4 78 V82"/>
<path vector-effect="non-scaling-stroke" stroke="#ec2a2a" stroke-width="0.8" d="M7 47 V51 M8 47 V51 M9.6 47 V51"/>
</g>
<g transform="translate(322,912) scale(11,-0.9)" fill="none" stroke-width="1.3">
<path vector-effect="non-scaling-stroke" stroke="#2e7cc4" d="M0 100 H2.6 V95 H3.5 V91 H4.4 V84 H10.2"/>
<path vector-effect="non-scaling-stroke" stroke="#ec2a2a" d="M0 100 H0.2 V95 H0.5 V90 H0.8 V86 H1.1 V82 H1.4 V79 H1.7 V76 H2 V73 H2.4 V70 H2.8 V68 H3.2 V66 H3.6 V63 H4 V60 H4.4 V58 H5.8 V50 H11.3 V25 H11.9"/>
<path vector-effect="non-scaling-stroke" stroke="#2e7cc4" stroke-width="0.8" d="M1.5 98 V102 M3 89 V93 M5.5 82 V86 M6.5 82 V86 M7.5 82 V86 M8.5 82 V86 M9.5 82 V86"/>
<path vector-effect="non-scaling-stroke" stroke="#ec2a2a" stroke-width="0.8" d="M6.5 48 V52 M8 48 V52 M10 48 V52 M5 56 V60"/>
</g>
<g transform="translate(602,912) scale(10.95,-0.9)" fill="none" stroke-width="1.3">
<path vector-effect="non-scaling-stroke" stroke="#ec2a2a" d="M0 100 H0.1 V93 H1.1 V88 H2 V84 H2.9 V74 H4.4 V69 H4.8 V62 H6.4 V49 H8.7"/>
<path vector-effect="non-scaling-stroke" stroke="#2e7cc4" d="M0 100 H0.1 V98 H0.3 V95 H0.6 V92 H1 V90 H1.4 V88 H1.8 V85 H2.2 V82 H2.6 V79 H3 V74 H4.4 V72 H5.9 V68 H11"/>
<path vector-effect="non-scaling-stroke" stroke="#2e7cc4" stroke-width="0.8" d="M6.5 66 V70 M7.3 66 V70 M8.2 66 V70 M9 66 V70 M9.8 66 V70 M10.5 66 V70 M3.5 72 V76"/>
<path vector-effect="non-scaling-stroke" stroke="#ec2a2a" stroke-width="0.8" d="M5.2 60 V64 M7 47 V51 M8 47 V51"/>
</g>
<g>
<path d="M170 812 h13 M448 812 h13 M727 812 h13" stroke="#2e7cc4" stroke-width="1.5"/>
<path d="M170 827 h13 M448 827 h13 M727 827 h13" stroke="#ec2a2a" stroke-width="1.5"/>
</g>
<g font-size="9">
<text x="188" y="815">SPHK1 Low (<tspan font-style="italic">n</tspan> = 89)</text><text x="188" y="830">SPHK1 High (<tspan font-style="italic">n</tspan> = 88)</text>
<text x="467" y="815">SPHK1 Low (<tspan font-style="italic">n</tspan> = 24)</text><text x="467" y="830">SPHK1 High (<tspan font-style="italic">n</tspan> = 64)</text>
<text x="746" y="815">SPHK1 Low (<tspan font-style="italic">n</tspan> = 65)</text><text x="746" y="830">SPHK1 High (<tspan font-style="italic">n</tspan> = 24)</text>
<text x="180" y="876"><tspan font-style="italic">P</tspan> = 0.029</text><text x="458" y="876"><tspan font-style="italic">P</tspan> = 0.014</text><text x="737" y="876"><tspan font-style="italic">P</tspan> = 0.462</text></g>
</svg>
</body></html>
